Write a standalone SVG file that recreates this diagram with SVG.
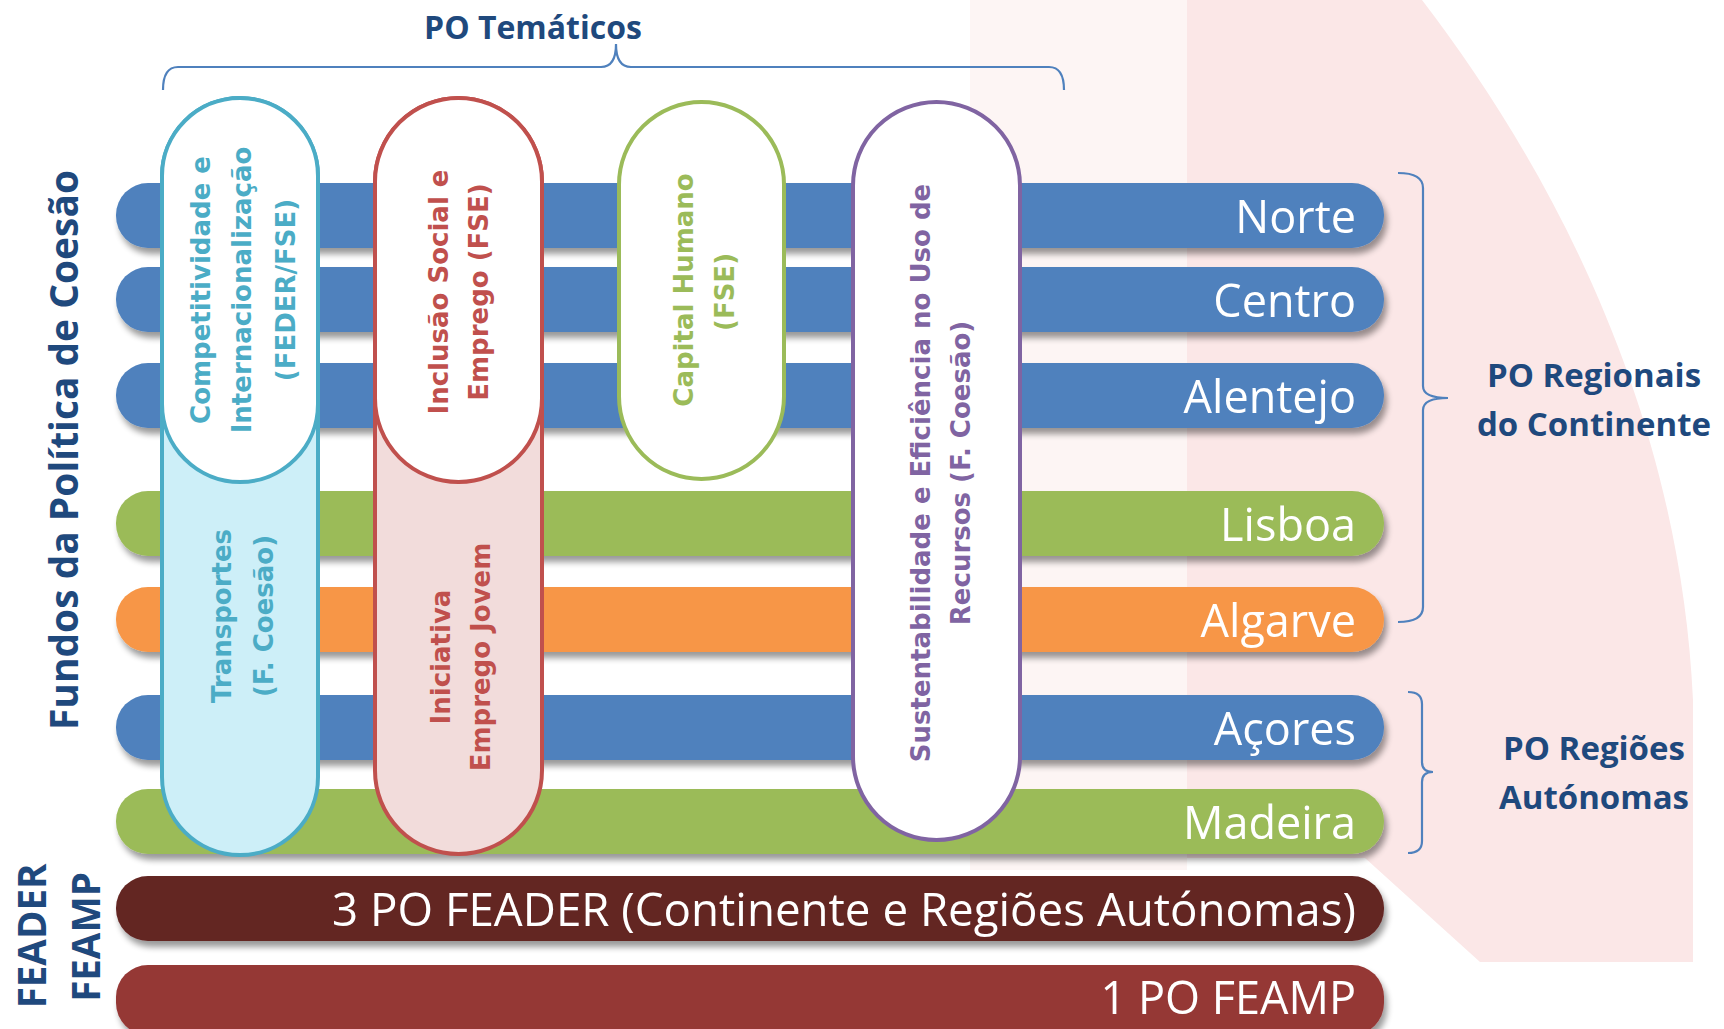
<svg xmlns="http://www.w3.org/2000/svg" width="1724" height="1029" viewBox="0 0 1724 1029">
<defs>
<filter id="sh" x="-5%" y="-40%" width="110%" height="200%">
<feGaussianBlur in="SourceAlpha" stdDeviation="3"/>
<feOffset dx="3" dy="6" result="o"/>
<feComponentTransfer><feFuncA type="linear" slope="0.4"/></feComponentTransfer>
<feMerge><feMergeNode/><feMergeNode in="SourceGraphic"/></feMerge>
</filter>
<style>
.bar{stroke:none}
.bl{font-family:"Open Sans","Liberation Sans",sans-serif;font-size:45px;fill:#fff;text-anchor:end}
.pt{font-family:"DejaVu Sans","Verdana",sans-serif;font-weight:bold;font-size:26px;text-anchor:middle}
.nv{font-family:"Open Sans","Liberation Sans",sans-serif;font-weight:bold;fill:#1F497D;text-anchor:middle}
.br{fill:none;stroke:#4F81BD;stroke-width:2.2}
.pill{stroke-width:4}
</style>
</defs>
<rect width="1724" height="1029" fill="#ffffff"/>
<g id="background">
<rect x="970" y="0" width="217" height="870" fill="#FDF5F4"/>
<path d="M1187,0 L1422,0 C1560,180 1680,420 1693,700 L1693,962 L1480,962 L1365,858 L1187,858 Z" fill="#FBE7E7"/>
</g>
<g id="bars" filter="url(#sh)">
<g id="bar-norte"><rect class="bar" x="116" y="183" width="1268" height="65" rx="32" fill="#4F81BD"/><text class="bl" x="1356" y="233">Norte</text></g>
<g id="bar-centro"><rect class="bar" x="116" y="267" width="1268" height="65" rx="32" fill="#4F81BD"/><text class="bl" x="1356" y="317">Centro</text></g>
<g id="bar-alentejo"><rect class="bar" x="116" y="363" width="1268" height="65" rx="32" fill="#4F81BD"/><text class="bl" x="1356" y="413">Alentejo</text></g>
<g id="bar-lisboa"><rect class="bar" x="116" y="491" width="1268" height="65" rx="32" fill="#9BBB59"/><text class="bl" x="1356" y="541">Lisboa</text></g>
<g id="bar-algarve"><rect class="bar" x="116" y="587" width="1268" height="65" rx="32" fill="#F79646"/><text class="bl" x="1356" y="637">Algarve</text></g>
<g id="bar-acores"><rect class="bar" x="116" y="695" width="1268" height="65" rx="32" fill="#4F81BD"/><text class="bl" x="1356" y="745">Açores</text></g>
<g id="bar-madeira"><rect class="bar" x="116" y="789" width="1268" height="65" rx="32" fill="#9BBB59"/><text class="bl" x="1356" y="839">Madeira</text></g>
<g id="bar-feader"><rect class="bar" x="116" y="876" width="1268" height="65" rx="32" fill="#632523"/><text class="bl" x="1356" y="926" textLength="1024" lengthAdjust="spacingAndGlyphs">3 PO FEADER (Continente e Regiões Autónomas)</text></g>
<g id="bar-feamp"><rect class="bar" x="116" y="965" width="1268" height="70" rx="32" fill="#953735"/><text class="bl" x="1356" y="1014">1 PO FEAMP</text></g>
</g>
<g id="pill-competitividade">
<rect class="pill" x="162" y="98" width="156" height="757" rx="78" fill="#CDEFF8" stroke="#4BACC6"/>
<rect class="pill" x="162" y="98" width="156" height="384" rx="78" fill="#ffffff" stroke="#4BACC6"/>
<text class="pt" fill="#4BACC6" transform="translate(210,290) rotate(-90)">Competitividade e</text>
<text class="pt" fill="#4BACC6" transform="translate(251,290) rotate(-90)">Internacionalização</text>
<text class="pt" fill="#4BACC6" transform="translate(295,290) rotate(-90)">(FEDER/FSE)</text>
<text class="pt" fill="#4BACC6" transform="translate(231,616) rotate(-90)">Transportes</text>
<text class="pt" fill="#4BACC6" transform="translate(273,616) rotate(-90)">(F. Coesão)</text>
</g>
<g id="pill-inclusao">
<rect class="pill" x="375" y="98" width="167" height="756" rx="83.5" fill="#F2DCDB" stroke="#C0504D"/>
<rect class="pill" x="375" y="98" width="167" height="384" rx="83.5" fill="#ffffff" stroke="#C0504D"/>
<text class="pt" fill="#C0504D" transform="translate(448,292) rotate(-90)">Inclusão Social e</text>
<text class="pt" fill="#C0504D" transform="translate(488,292) rotate(-90)">Emprego (FSE)</text>
<text class="pt" fill="#C0504D" transform="translate(450,657) rotate(-90)">Iniciativa</text>
<text class="pt" fill="#C0504D" transform="translate(490,657) rotate(-90)">Emprego Jovem</text>
</g>
<g id="pill-capital">
<rect class="pill" x="619" y="102" width="165" height="377" rx="82.5" fill="#ffffff" stroke="#9BBB59"/>
<text class="pt" fill="#9BBB59" transform="translate(693,290) rotate(-90)">Capital Humano</text>
<text class="pt" fill="#9BBB59" transform="translate(734,292) rotate(-90)">(FSE)</text>
</g>
<g id="pill-sustentabilidade">
<rect class="pill" x="853" y="102" width="167" height="738" rx="83.5" fill="#ffffff" stroke="#8064A2"/>
<text class="pt" fill="#8064A2" transform="translate(930,473) rotate(-90)">Sustentabilidade e Eficiência no Uso de</text>
<text class="pt" fill="#8064A2" transform="translate(970,473) rotate(-90)">Recursos (F. Coesão)</text>
</g>
<g id="connectors">
<path class="br" d="M163,90 Q163,67 178,67 L601,67 Q616,67 616,44 Q616,67 631,67 L1049,67 Q1064,67 1064,90"/>
<path class="br" d="M1398,173 Q1423,173 1423,188 L1423,386 Q1423,398 1448,398 Q1423,398 1423,410 L1423,607 Q1423,622 1398,622"/>
<path class="br" d="M1408,692 Q1422,692 1422,704 L1422,762 Q1422,772 1433,772 Q1422,772 1422,782 L1422,841 Q1422,853 1408,853"/>
</g>
<g id="label-po-tematicos"><text class="nv" x="533" y="39" font-size="32">PO Temáticos</text></g>
<g id="label-po-regionais">
<text class="nv" x="1594" y="387" font-size="33">PO Regionais</text>
<text class="nv" x="1594" y="436" font-size="33">do Continente</text>
</g>
<g id="label-po-regioes">
<text class="nv" x="1594" y="760" font-size="33">PO Regiões</text>
<text class="nv" x="1594" y="809" font-size="33">Autónomas</text>
</g>
<g id="label-fundos"><text class="nv" font-size="39" transform="translate(78,450) rotate(-90)" textLength="560" lengthAdjust="spacingAndGlyphs">Fundos da Política de Coesão</text></g>
<g id="label-feader-feamp">
<text class="nv" font-size="38.5" transform="translate(46,936) rotate(-90)">FEADER</text>
<text class="nv" font-size="38.5" transform="translate(100,937) rotate(-90)">FEAMP</text>
</g>
</svg>
